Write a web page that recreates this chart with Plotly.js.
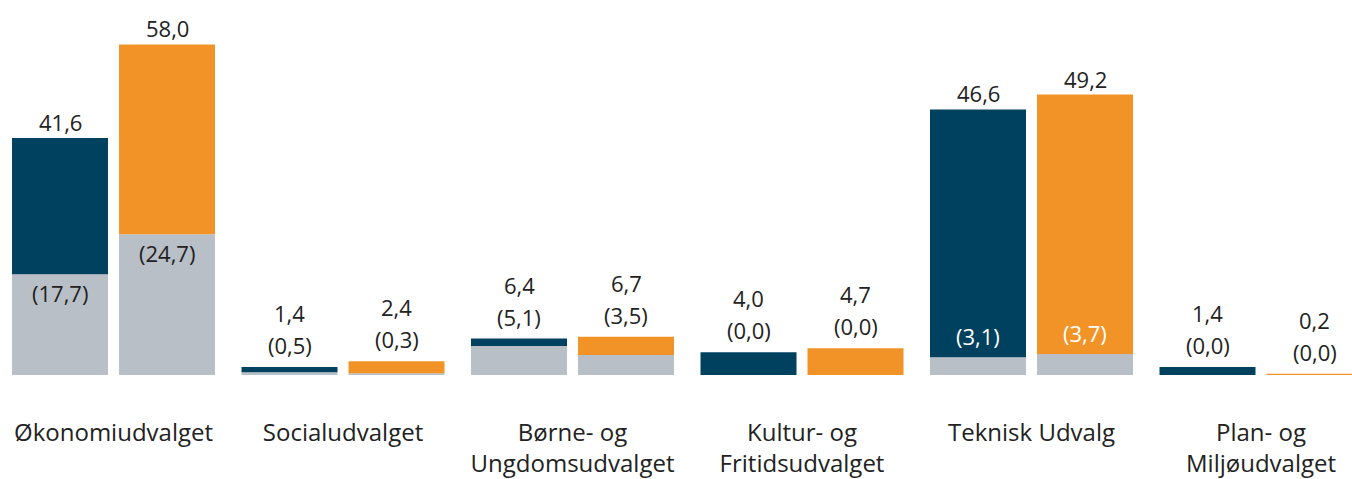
<!DOCTYPE html>
<html>
<head>
<meta charset="utf-8">
<script src="https://cdn.plot.ly/plotly-3.0.1.min.js"></script>
<style>
  html, body { margin: 0; padding: 0; background: #fff; }
  #chart { width: 1352px; height: 479px; }
</style>
</head>
<body>
<div id="chart"></div>
<script>
// Udvalg: total (top label) and grey part (label in brackets), two years side by side
const CATS = ['Økonomiudvalget', 'Socialudvalget', 'Børne- og<br>Ungdomsudvalget',
  'Kultur- og<br>Fritidsudvalget', 'Teknisk Udvalg', 'Plan- og<br>Miljøudvalget'];
const TOTAL_A = [41.6, 1.4, 6.4, 4.0, 46.6, 1.4];
const PART_A = [17.7, 0.5, 5.1, 0.0, 3.1, 0.0];
const TOTAL_B = [58.0, 2.4, 6.7, 4.7, 49.2, 0.2];
const PART_B = [24.7, 0.3, 3.5, 0.0, 3.7, 0.0];

const DARK = '#00415f', ORANGE = '#f29327', GREY = '#b8bfc6', INK = '#222222';
const FONT = 'Open Sans, sans-serif';
const idx = CATS.map((_, i) => i);
const fmt = v => v.toFixed(1).replace('.', ',');

function pair(total, part, color, grp) {
  return [
    { type: 'bar', x: idx, y: part, offsetgroup: grp, marker: { color: GREY }, hoverinfo: 'skip' },
    { type: 'bar', x: idx, y: total.map((t, i) => t - part[i]), base: part, offsetgroup: grp,
      marker: { color: color }, hoverinfo: 'skip' },
  ];
}

const traces = [...pair(TOTAL_A, PART_A, DARK, 'a'), ...pair(TOTAL_B, PART_B, ORANGE, 'b')];

// labels: total over the bar, bracketed part inside grey / inside colour / stacked above
const annotations = [];
function labels(total, part, shift) {
  total.forEach((t, i) => {
    const p = part[i];
    const base = { x: i, xref: 'x', yref: 'y', xshift: shift, showarrow: false, yanchor: 'middle',
      font: { family: FONT, size: 22, color: INK } };
    if (t < 10) {
      annotations.push({ ...base, y: t, yshift: 54, text: fmt(t) });
      annotations.push({ ...base, y: t, yshift: 22, text: '(' + fmt(p) + ')' });
    } else {
      annotations.push({ ...base, y: t, yshift: 16, text: fmt(t) });
      if (p > 10) annotations.push({ ...base, y: p, yshift: -19, text: '(' + fmt(p) + ')' });
      else annotations.push({ ...base, y: p, yshift: 21, text: '(' + fmt(p) + ')',
        font: { family: FONT, size: 22, color: '#ffffff' } });
    }
  });
}
labels(TOTAL_A, PART_A, -53.5);
labels(TOTAL_B, PART_B, 53.5);

Plotly.newPlot('chart', traces, {
  width: 1352, height: 479,
  margin: { l: 0, r: 0, t: 0, b: 104 },
  paper_bgcolor: '#fff', plot_bgcolor: '#fff',
  barmode: 'group', bargap: 0.0675, bargroupgap: 0.103,
  showlegend: false,
  font: { family: FONT, color: INK },
  xaxis: {
    type: 'linear', range: [-0.4946, 5.3965], tickvals: idx, ticktext: CATS,
    showgrid: false, zeroline: false, showline: false, ticks: '',
    tickfont: { family: FONT, size: 24, color: INK }, ticklabelstandoff: 41,
  },
  yaxis: { range: [0, 65.8], visible: false, showgrid: false, zeroline: false },
  annotations,
}, { staticPlot: true, displayModeBar: false });
</script>
</body>
</html>
